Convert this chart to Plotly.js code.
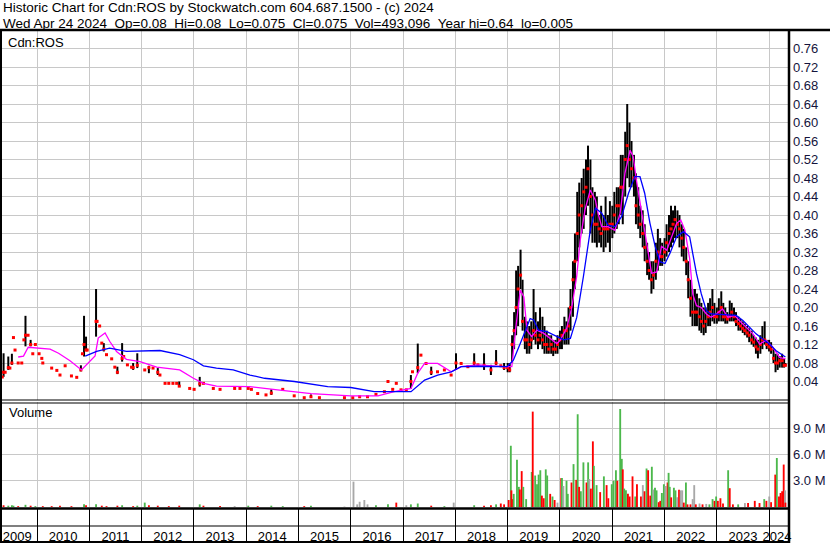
<!DOCTYPE html>
<html><head><meta charset="utf-8">
<script src="https://cdn.plot.ly/plotly-3.0.1.min.js"></script>
<style>html,body{margin:0;padding:0;background:#fff;overflow:hidden}#chart{width:830px;height:543px}</style>
</head><body><div id="chart"></div>
<script>
// ---------- price bars (date, high, low, close) ----------
const priceDates = [
 '2009-05-03','2009-05-12','2009-05-23','2009-06-14','2009-06-25','2009-07-09','2009-07-20','2009-07-31','2009-08-22','2009-09-16','2009-10-01','2009-10-12','2009-10-30','2009-11-17','2009-12-02','2009-12-20',
 '2010-01-15','2010-02-03','2010-02-10','2010-04-13','2010-05-19','2010-06-10','2010-07-16','2010-08-29','2010-10-05','2010-11-03','2010-11-14','2010-11-25','2010-12-09','2010-12-17',
 '2011-02-17','2011-02-24','2011-03-14','2011-03-29','2011-04-12','2011-05-01','2011-06-06','2011-06-28','2011-07-16','2011-08-18','2011-08-29','2011-09-24','2011-10-23','2011-11-03','2011-12-02',
 '2012-01-23','2012-02-21','2012-03-21','2012-04-23','2012-05-08','2012-06-13','2012-07-09','2012-08-07','2012-09-02','2012-09-20','2012-12-02',
 '2013-01-02','2013-02-10','2013-03-08','2013-05-16','2013-07-02','2013-10-12','2013-11-18',
 '2014-01-15','2014-02-06','2014-03-22','2014-05-19','2014-06-25','2014-09-13','2014-12-02',
 '2015-02-10','2015-03-29','2015-05-27','2015-11-18',
 '2016-01-15','2016-03-03','2016-04-27','2016-06-25','2016-08-23','2016-09-17','2016-10-20','2016-11-14','2016-12-17',
 '2017-01-23','2017-02-24','2017-03-07','2017-04-13','2017-05-05','2017-06-10','2017-07-16','2017-08-29','2017-10-16','2017-12-02',
 '2018-01-05','2018-02-10','2018-03-29','2018-05-12','2018-06-07','2018-07-20','2018-09-06','2018-10-12','2018-11-14','2018-12-07',
 '2019-01-01','2019-01-15','2019-02-01','2019-02-15','2019-03-01','2019-03-15','2019-04-01','2019-04-15','2019-05-01','2019-05-15','2019-06-01','2019-06-15','2019-07-01','2019-07-15','2019-08-01','2019-08-15','2019-09-01','2019-09-15','2019-10-01','2019-10-15','2019-11-01','2019-11-15','2019-12-01','2019-12-15',
 '2020-01-01','2020-01-15','2020-02-01','2020-02-15','2020-03-01','2020-03-15','2020-04-01','2020-04-15','2020-05-01','2020-05-15','2020-06-01','2020-06-15','2020-07-01','2020-07-15','2020-08-01','2020-08-15','2020-09-01','2020-09-15','2020-10-01','2020-10-15','2020-11-01','2020-11-15','2020-12-01','2020-12-15',
 '2021-01-01','2021-01-15','2021-02-01','2021-02-15','2021-03-01','2021-03-15','2021-04-01','2021-04-15','2021-05-01','2021-05-15','2021-06-01','2021-06-15','2021-07-01','2021-07-15','2021-08-01','2021-08-15','2021-09-01','2021-09-15','2021-10-01','2021-10-15','2021-11-01','2021-11-15','2021-12-01','2021-12-15',
 '2022-01-01','2022-01-15','2022-02-01','2022-02-15','2022-03-01','2022-03-15','2022-04-01','2022-04-15','2022-05-01','2022-05-15','2022-06-01','2022-06-15','2022-07-01','2022-07-15','2022-08-01','2022-08-15','2022-09-01','2022-09-15','2022-10-01','2022-10-15','2022-11-01','2022-11-15','2022-12-01','2022-12-15',
 '2023-01-01','2023-01-15','2023-02-01','2023-02-15','2023-03-01','2023-03-15','2023-04-01','2023-04-15','2023-05-01','2023-05-15','2023-06-01','2023-06-15','2023-07-01','2023-07-15','2023-08-01','2023-08-15','2023-09-01','2023-09-15','2023-10-01','2023-10-15','2023-11-01','2023-11-15','2023-12-01','2023-12-15',
 '2024-01-01','2024-01-15','2024-02-01','2024-02-15','2024-03-01','2024-03-15','2024-04-01','2024-04-15','2024-04-24'
];
const priceHigh = [
 .05,.101,.06,.094,.069,.10,.135,.108,.08,.08,.13,.182,.14,.13,.10,.12,
 .10,.09,.08,.069,.064,.054,.074,.052,.049,.075,.10,.182,.137,.108,
 .24,.17,.16,.123,.123,.098,.089,.071,.072,.123,.094,.076,.071,.08,.101,
 .065,.074,.069,.069,.054,.036,.036,.036,.036,.04,.025,
 .023,.05,.036,.025,.023,.025,.025,
 .025,.023,.014,.011,.023,.023,.009,
 .005,.012,.005,.005,
 .005,.007,.007,.012,.018,.04,.023,.036,.022,
 .022,.054,.061,.122,.097,.079,.072,.061,.065,.054,
 .101,.079,.072,.101,.076,.101,.076,.108,.074,.08,
 .08,.08,.14,.19,.28,.29,.325,.26,.18,.17,.16,.17,.24,.19,.17,.20,.18,.16,.15,.14,.14,.13,.13,.14,
 .15,.16,.18,.17,.20,.24,.30,.36,.45,.47,.48,.50,.52,.55,.52,.46,.45,.44,.40,.42,.40,.44,.40,.43,
 .42,.45,.46,.46,.53,.53,.58,.64,.60,.56,.53,.49,.46,.42,.41,.38,.34,.32,.30,.30,.34,.37,.35,.34,
 .35,.38,.40,.42,.41,.42,.41,.40,.38,.37,.33,.30,.26,.24,.24,.23,.22,.21,.20,.20,.21,.22,.24,.21,
 .20,.22,.235,.21,.20,.19,.215,.21,.20,.19,.18,.175,.17,.165,.16,.155,.15,.14,.135,.13,.14,.16,.17,.13,
 .13,.125,.11,.10,.10,.095,.10,.09,.08
];
const priceLow = [
 .05,.05,.06,.065,.069,.076,.135,.108,.08,.08,.13,.116,.14,.116,.10,.12,
 .10,.09,.08,.069,.064,.054,.074,.052,.049,.062,.10,.094,.108,.108,
 .137,.17,.16,.123,.105,.098,.089,.071,.056,.083,.094,.076,.071,.065,.069,
 .065,.058,.069,.054,.054,.036,.036,.036,.036,.029,.025,
 .023,.029,.036,.025,.023,.025,.025,
 .025,.023,.014,.011,.011,.023,.009,
 .005,.005,.005,.005,
 .005,.007,.007,.012,.018,.04,.023,.036,.022,
 .022,.025,.061,.058,.097,.079,.054,.061,.065,.054,
 .065,.079,.072,.072,.076,.065,.054,.076,.074,.065,
 .06,.06,.08,.11,.14,.16,.24,.15,.11,.10,.10,.11,.13,.12,.11,.12,.11,.10,.10,.10,.10,.095,.10,.10,
 .11,.11,.12,.12,.12,.15,.18,.24,.30,.33,.36,.37,.40,.42,.36,.34,.34,.33,.34,.33,.32,.33,.34,.32,
 .35,.36,.37,.38,.40,.38,.44,.48,.46,.46,.44,.38,.37,.35,.33,.30,.27,.26,.23,.24,.26,.28,.29,.29,
 .30,.31,.32,.33,.34,.35,.35,.33,.31,.30,.27,.22,.18,.16,.16,.16,.15,.145,.14,.145,.16,.16,.17,.165,
 .165,.17,.17,.17,.165,.165,.17,.17,.17,.16,.15,.15,.145,.14,.135,.125,.12,.115,.10,.09,.10,.11,.12,.11,
 .105,.10,.08,.06,.065,.07,.07,.07,.075
];
const priceClose = [
 .05,.06,.06,.07,.069,.08,.135,.108,.08,.08,.13,.14,.14,.12,.10,.12,
 .10,.09,.08,.069,.064,.054,.074,.052,.049,.065,.10,.12,.108,.108,
 .17,.17,.16,.123,.11,.098,.089,.071,.06,.09,.094,.076,.071,.07,.075,
 .065,.07,.069,.06,.054,.036,.036,.036,.036,.03,.025,
 .023,.035,.036,.025,.023,.025,.025,
 .025,.023,.014,.011,.015,.023,.009,
 .005,.007,.005,.005,
 .005,.007,.007,.012,.018,.04,.023,.036,.022,
 .022,.04,.061,.07,.097,.079,.06,.061,.065,.054,
 .08,.079,.072,.08,.076,.075,.065,.08,.074,.07,
 .07,.065,.12,.15,.20,.24,.27,.17,.13,.13,.12,.13,.15,.14,.13,.14,.13,.12,.12,.11,.12,.11,.11,.12,
 .13,.14,.15,.15,.16,.20,.26,.30,.36,.40,.42,.45,.46,.50,.44,.40,.38,.38,.37,.36,.37,.37,.37,.38,
 .38,.40,.42,.42,.46,.46,.52,.55,.52,.50,.48,.42,.40,.38,.36,.33,.30,.28,.26,.27,.30,.32,.31,.31,
 .32,.34,.36,.37,.38,.39,.38,.37,.35,.33,.30,.26,.22,.19,.19,.19,.18,.17,.16,.17,.18,.19,.20,.18,
 .18,.19,.20,.18,.18,.175,.18,.19,.18,.17,.165,.16,.155,.15,.145,.14,.13,.125,.115,.11,.12,.13,.13,.12,
 .115,.11,.09,.08,.08,.085,.085,.075,.075
];

// ---------- moving averages ----------
const maShortDates = ['2009-08-22','2009-09-28','2009-10-31','2009-12-28','2010-04-02','2010-05-31','2010-08-19','2010-11-07','2010-12-10','2011-02-10','2011-03-04','2011-04-21','2011-05-23','2011-07-10','2011-09-17','2011-12-21','2012-04-16','2012-09-23','2012-12-28','2013-03-08','2013-06-07','2013-10-02','2014-01-27','2014-08-08','2015-03-30','2016-01-01','2016-07-09','2016-10-31','2017-02-25','2017-04-13','2017-05-31','2017-08-30','2017-12-03','2018-02-10','2018-06-07','2018-12-10','2019-01-30','2019-02-25','2019-03-30','2019-04-24','2019-05-16','2019-06-18','2019-07-24','2019-09-10','2019-10-27','2019-12-10','2020-01-05','2020-02-17','2020-03-25','2020-04-27','2020-05-22','2020-06-24','2020-07-31','2020-09-05','2020-09-23','2020-10-19','2020-12-02','2021-01-19','2021-02-25','2021-03-30','2021-05-05','2021-05-27','2021-06-18','2021-07-24','2021-08-30','2021-10-02','2021-11-07','2021-12-10','2022-01-16','2022-02-17','2022-03-26','2022-04-24','2022-05-23','2022-06-25','2022-07-17','2022-08-12','2022-09-14','2022-10-20','2022-11-22','2022-12-28','2023-02-10','2023-03-19','2023-05-05','2023-06-07','2023-07-24','2023-09-10','2023-10-27','2023-12-10','2024-01-27','2024-03-14','2024-04-24'];
const maShort = [.093,.095,.114,.113,.11,.101,.085,.065,.076,.095,.134,.145,.127,.105,.088,.083,.071,.065,.047,.036,.030,.029,.029,.022,.014,.009,.009,.018,.025,.058,.079,.079,.061,.072,.076,.072,.072,.151,.238,.223,.151,.137,.151,.144,.133,.122,.13,.155,.202,.267,.346,.411,.454,.432,.404,.375,.375,.367,.404,.49,.54,.526,.476,.404,.332,.274,.277,.332,.324,.353,.382,.389,.367,.306,.229,.204,.20,.186,.179,.186,.197,.179,.183,.172,.157,.143,.121,.129,.114,.092,.089];

const maLongDates = ['2010-12-03','2011-02-21','2011-05-23','2011-09-17','2012-05-08','2012-09-23','2012-12-28','2013-03-08','2013-06-07','2013-10-02','2014-01-27','2014-05-09','2014-12-03','2015-07-24','2016-01-01','2016-06-13','2017-02-25','2017-05-31','2017-08-30','2017-12-03','2018-02-10','2018-06-07','2018-12-28','2019-02-10','2019-03-30','2019-05-05','2019-06-07','2019-07-02','2019-08-04','2019-10-02','2019-12-10','2020-01-27','2020-03-14','2020-04-27','2020-06-13','2020-07-31','2020-09-05','2020-10-19','2020-12-02','2021-01-19','2021-03-07','2021-04-24','2021-06-07','2021-07-13','2021-08-15','2021-09-21','2021-10-27','2021-11-29','2022-01-04','2022-02-07','2022-03-26','2022-05-12','2022-06-25','2022-07-17','2022-08-12','2022-09-14','2022-10-20','2022-11-22','2023-05-16','2023-07-02','2023-08-15','2023-10-02','2023-11-18','2024-01-04','2024-02-17','2024-04-05','2024-04-24'];
const maLong = [.095,.105,.112,.105,.107,.098,.087,.074,.069,.065,.054,.047,.04,.029,.027,.018,.018,.043,.054,.061,.072,.073,.072,.086,.122,.151,.176,.173,.151,.148,.137,.13,.133,.178,.267,.367,.415,.404,.378,.375,.397,.447,.483,.483,.447,.382,.332,.299,.295,.317,.353,.364,.353,.316,.273,.23,.193,.186,.183,.172,.157,.143,.132,.121,.107,.096,.093];

// ---------- volume (millions) ----------
const volDates = [
 '2009-05-12','2009-06-14','2009-07-09','2009-07-20','2009-08-22','2009-10-12','2009-11-17','2009-12-20',
 '2010-02-10','2010-04-13','2010-06-10','2010-08-29','2010-11-25','2010-12-09',
 '2011-02-17','2011-03-29','2011-05-01','2011-07-16','2011-08-18','2011-11-03','2011-12-02',
 '2012-01-23','2012-02-21','2012-04-23','2012-07-09','2012-09-20',
 '2013-02-10','2013-03-08','2013-07-02','2013-10-12',
 '2014-01-15','2014-03-22','2014-06-25','2014-09-13',
 '2015-02-10','2015-03-29','2015-11-18',
 '2016-01-20','2016-02-15','2016-03-03','2016-04-05','2016-04-27','2016-06-25','2016-09-17','2016-11-14',
 '2017-01-23','2017-02-24','2017-04-13','2017-07-16','2017-10-16','2017-12-20',
 '2018-05-12','2018-07-20','2018-09-06','2018-10-12','2018-11-14','2018-12-07',
 '2019-01-08','2019-01-23','2019-01-27','2019-02-05','2019-02-12','2019-03-07','2019-03-20','2019-03-27','2019-04-09','2019-04-20','2019-05-10','2019-06-18','2019-06-25','2019-07-12','2019-07-25','2019-08-05','2019-08-17','2019-08-28','2019-09-10','2019-09-24','2019-10-04','2019-10-25','2019-11-10','2019-11-25','2019-12-15',
 '2020-01-10','2020-01-15','2020-01-25','2020-02-16','2020-02-25','2020-03-22','2020-04-05','2020-04-24','2020-05-04','2020-05-14','2020-05-26','2020-06-13','2020-07-05','2020-07-16','2020-07-24','2020-08-04','2020-08-18','2020-08-25','2020-09-13','2020-10-08','2020-11-03','2020-11-22','2020-12-04','2020-12-28',
 '2021-01-10','2021-01-26','2021-02-05','2021-02-25','2021-03-08','2021-03-15','2021-03-25','2021-04-06','2021-04-20','2021-05-02','2021-05-22','2021-06-10','2021-06-22','2021-07-20','2021-08-02','2021-08-14','2021-08-28','2021-09-08','2021-09-23','2021-10-04','2021-10-15','2021-10-26','2021-11-06','2021-11-21','2021-12-02','2021-12-13','2021-12-27',
 '2022-01-08','2022-01-22','2022-01-29','2022-02-06','2022-02-16','2022-03-07','2022-03-18','2022-03-29','2022-04-12','2022-04-23','2022-05-04','2022-05-15','2022-05-30','2022-06-10','2022-07-01','2022-07-16','2022-07-27','2022-08-07','2022-09-02','2022-09-23','2022-10-19','2022-11-10','2022-12-02','2022-12-16','2022-12-27',
 '2023-01-08','2023-01-26','2023-02-13','2023-03-21','2023-04-01','2023-04-23','2023-05-30','2023-07-16','2023-08-07','2023-09-23','2023-10-26','2023-11-28','2023-12-13',
 '2024-01-02','2024-01-15','2024-02-13','2024-02-24','2024-03-10','2024-03-21','2024-04-01','2024-04-12','2024-04-22','2024-04-24'
];
const volM = [
 .2,.15,.2,.15,.1,.25,.15,.1,
 .1,.1,.15,.1,.3,.2,
 .3,.15,.1,.15,.2,.1,.15,
 .5,.2,.15,.1,.15,
 .3,.15,.1,.1,
 .15,.1,.15,.1,
 .1,.15,.05,
 2.9,.3,.6,.8,.3,.2,.3,.5,
 .2,.3,.4,.15,.1,.5,
 .2,.15,.2,.3,.4,.3,
 .8,7.0,1.9,.9,1.5,5.4,2.3,2.0,4.1,2.3,.9,4.0,10.9,3.6,2.6,3.7,4.2,1.3,1.0,4.3,3.6,1.5,1.2,.8,.5,
 3.3,3.3,2.4,3.0,1.5,2.8,4.9,3.1,10.6,2.3,1.8,5.1,2.8,5.1,3.2,2.1,7.5,4.7,2.5,1.7,3.5,2.5,1.0,2.6,
 3.0,4.2,3.0,11.2,5.5,4.3,2.1,1.9,1.5,1.2,3.5,1.2,2.6,1.2,2.5,1.8,4.4,4.2,1.3,4.6,2.0,2.2,1.9,.55,.7,1.6,2.6,
 2.4,2.8,3.9,2.3,1.1,2.2,1.9,1.1,1.96,1.9,1.9,.5,2.8,.3,.3,.9,2.5,.3,.4,.3,.35,.3,.9,.7,1.2,
 .7,1.0,.4,4.2,2.15,.3,.3,.45,.45,.7,.45,.9,.7,
 1.2,.55,3.7,5.6,1.2,1.6,1.8,4.85,1.9,.5
];
const volDir = [
 'd','u','u','u','d','u','d','u',
 'd','d','d','d','u','d',
 'u','d','d','d','u','d','u',
 'u','d','d','d','d',
 'u','d','d','n',
 'u','d','u','u',
 'd','u','n',
 'n','n','n','n','n','u','u','d',
 'n','u','u','d','u','n',
 'u','d','d','u','d','d',
 'd','u','d','d','u','u','u','d','d','u','u','u','d','u','u','u','u','d','d','u','u','d','u','d','n',
 'd','u','n','u','u','d','u','d','u','d','u','u','d','u','n','d','d','u','u','d','u','d','d','u',
 'u','u','d','u','u','d','u','u','d','d','d','u','d','d','n','d','u','d','d','u','n','u','u','d','d','u','u',
 'n','d','u','u','d','u','u','n','d','n','n','d','u','d','d','n','n','d','n','d','n','u','u','d','u',
 'd','d','d','u','d','d','u','n','d','d','d','u','d',
 'n','d','d','u','d','d','d','d','n','d'
];

// ---------- axes / ticks ----------
const yearStarts = ['2010-01-01','2011-01-01','2012-01-01','2013-01-01','2014-01-01','2015-01-01','2016-01-01','2017-01-01','2018-01-01','2019-01-01','2020-01-01','2021-01-01','2022-01-01','2023-01-01','2024-01-01'];
const yearLabelDates = ['2009-08-15','2010-07-02','2011-07-02','2012-07-02','2013-07-02','2014-07-02','2015-07-02','2016-07-02','2017-07-02','2018-07-02','2019-07-02','2020-07-02','2021-07-02','2022-07-02','2023-07-02','2024-02-25'];
const yearLabels = ['2009','2010','2011','2012','2013','2014','2015','2016','2017','2018','2019','2020','2021','2022','2023','2024'];
const priceTicks = [0.04,0.08,0.12,0.16,0.20,0.24,0.28,0.32,0.36,0.40,0.44,0.48,0.52,0.56,0.60,0.64,0.68,0.72,0.76];
const volTicks = [3,6,9];
const volTickText = ['3.0 M','6.0 M','9.0 M'];
const xRange = ['2009-05-01','2024-05-19'];

// ---------- geometry ----------
const W = 830, H = 543;
const px = x => x / W;
const py = y => 1 - y / H;
const plotL = 2, plotR = 789;
const FONT = 'Liberation Sans, Arial, sans-serif';
const volColors = {u:'#4cb84c', d:'#ff0000', n:'#a8a8a8'};
const SP = '\u00a0\u00a0';

const traces = [
 {type:'bar', x:volDates, y:volM, xaxis:'x2', yaxis:'y2',
  width: 13*86400000,
  marker:{color: volDir.map(d => volColors[d]), line:{width:0}}, hoverinfo:'skip'},
 {type:'ohlc', x:priceDates, open:priceClose, high:priceHigh, low:priceLow, close:priceClose,
  xaxis:'x', yaxis:'y', tickwidth:0,
  increasing:{line:{color:'#000', width:2}}, decreasing:{line:{color:'#000', width:2}}, hoverinfo:'skip'},
 {type:'scatter', mode:'markers', x:priceDates, y:priceClose, xaxis:'x', yaxis:'y',
  marker:{symbol:'square', size:3, color:'#ff0000', line:{width:0}}, hoverinfo:'skip'},
 {type:'scatter', mode:'lines', x:maShortDates, y:maShort, xaxis:'x', yaxis:'y',
  line:{color:'#ff00ff', width:1.3}, hoverinfo:'skip'},
 {type:'scatter', mode:'lines', x:maLongDates, y:maLong, xaxis:'x', yaxis:'y',
  line:{color:'#0000ff', width:1.3}, hoverinfo:'skip'}
];

const hline = (y, x0, x1, w) => ({type:'line', xref:'paper', yref:'paper', x0:px(x0), x1:px(x1), y0:py(y), y1:py(y), line:{color:'#000', width:w}});
const vline = (x, y0, y1, w) => ({type:'line', xref:'paper', yref:'paper', x0:px(x), x1:px(x), y0:py(y0), y1:py(y1), line:{color:'#000', width:w}});

const layout = {
 width:W, height:H, margin:{l:0, r:0, t:0, b:0},
 paper_bgcolor:'#fff', plot_bgcolor:'#fff', showlegend:false,
 font:{family:FONT, size:12, color:'#000'},
 xaxis:{domain:[px(plotL), px(plotR)], anchor:'y', type:'date', range:xRange,
  tickvals:yearStarts, showticklabels:false, ticks:'', showgrid:true, gridcolor:'#c8c8c8', gridwidth:1,
  zeroline:false, showline:false, rangeslider:{visible:false}, fixedrange:true},
 yaxis:{domain:[py(400), py(30)], anchor:'x', side:'right', range:[0, 0.8],
  tickvals:priceTicks, ticktext:priceTicks.map(v => v.toFixed(2)),
  showgrid:true, gridcolor:'#c8c8c8', gridwidth:1, zeroline:false, ticks:'', showline:false,
  ticklabelstandoff:3,
  tickfont:{family:FONT, size:13, color:'#14143c'}, fixedrange:true},
 xaxis2:{domain:[px(plotL), px(plotR)], anchor:'y2', type:'date', matches:'x',
  tickvals:yearLabelDates, ticktext:yearLabels, showgrid:false, ticks:'', zeroline:false, showline:false,
  ticklabelstandoff:20, tickfont:{family:FONT, size:13, color:'#000'},
  minor:{tickvals:yearStarts, showgrid:true, gridcolor:'#c8c8c8', gridwidth:1, ticks:'outside', ticklen:36, tickcolor:'#000', tickwidth:1},
  fixedrange:true},
 yaxis2:{domain:[py(507), py(402)], anchor:'x2', side:'right', range:[0, 12],
  tickvals:volTicks, ticktext:volTickText, showgrid:true, gridcolor:'#c8c8c8', gridwidth:1,
  zeroline:false, ticks:'', showline:false, ticklabelstandoff:3,
  tickfont:{family:FONT, size:13, color:'#14143c'}, fixedrange:true},
 shapes:[
  hline(30, 0, W, 2.5),
  vline(1, 30, H, 2),
  vline(plotR, 30, H, 2.5),
  hline(400, 0, plotR, 1.2),
  hline(403, 0, plotR, 1.2),
  hline(508.5, 0, plotR, 2.5),
  hline(526, 0, plotR, 1.2),
  hline(542, 0, plotR, 2)
 ],
 annotations:[
  {xref:'paper', yref:'paper', x:px(2), y:py(8), xanchor:'left', yanchor:'middle', showarrow:false, borderpad:0,
   text:'Historic Chart for Cdn:ROS by Stockwatch.com 604.687.1500 - (c) 2024', font:{family:FONT, size:13.5, color:'#000'}},
  {xref:'paper', yref:'paper', x:px(2), y:py(23), xanchor:'left', yanchor:'middle', showarrow:false, borderpad:0,
   text:['Wed Apr 24 2024','Op=0.08','Hi=0.08','Lo=0.075','Cl=0.075','Vol=493,096','Year hi=0.64','lo=0.005'].join(SP), font:{family:FONT, size:13.5, color:'#000'}},
  {xref:'paper', yref:'paper', x:px(6), y:py(42.5), xanchor:'left', yanchor:'middle', showarrow:false,
   text:'Cdn:ROS', font:{family:FONT, size:13, color:'#000'}},
  {xref:'paper', yref:'paper', x:px(7), y:py(413), xanchor:'left', yanchor:'middle', showarrow:false,
   text:'Volume', font:{family:FONT, size:13, color:'#000'}}
 ]
};

Plotly.newPlot('chart', traces, layout, {staticPlot:true, displayModeBar:false});
</script>
</body></html>
